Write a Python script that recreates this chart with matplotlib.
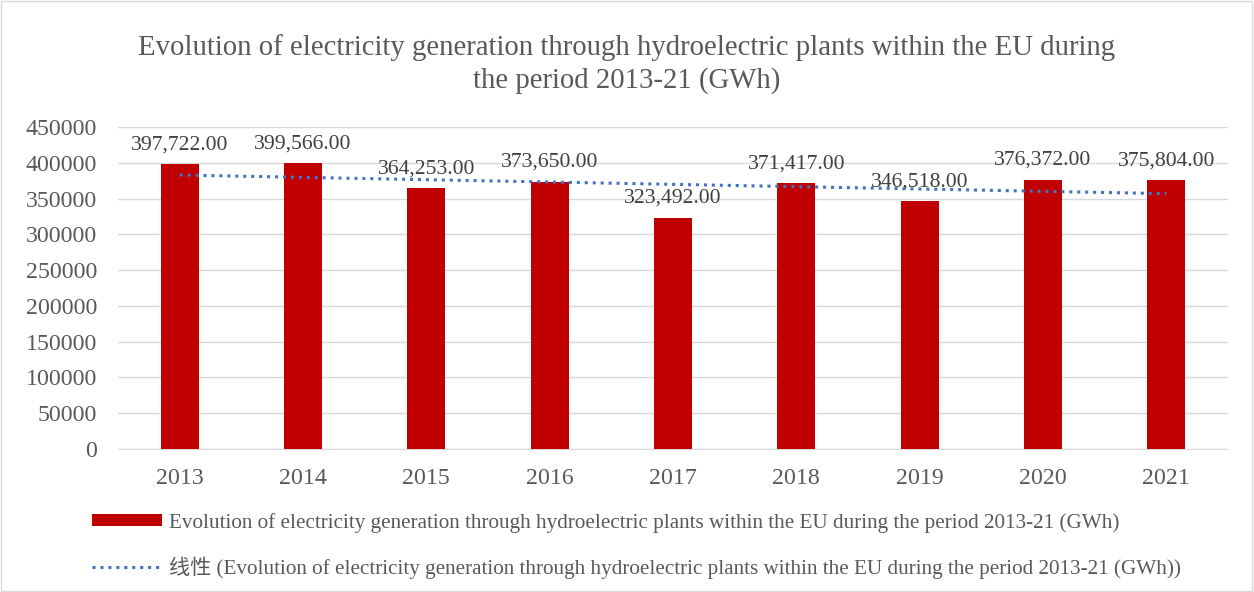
import numpy as np
import matplotlib.pyplot as plt
from matplotlib.patches import Rectangle

years = ['2013', '2014', '2015', '2016', '2017', '2018', '2019', '2020', '2021']
generation = [397722, 399566, 364253, 373650, 323492, 371417, 346518, 376372, 375804]
yticks = [0, 50000, 100000, 150000, 200000, 250000, 300000, 350000, 400000, 450000]

series_name = 'Evolution of electricity generation through hydroelectric plants within the EU during the period 2013-21 (GWh)'
title = ('Evolution of electricity generation through hydroelectric plants within the EU during\n'
         'the period 2013-21 (GWh)')

text_col = '#595959'
plt.rcParams['font.family'] = ['Liberation Serif', 'Noto Sans CJK SC', 'DejaVu Sans']

fig = plt.figure(figsize=(12.54, 5.92), dpi=100)
W, H = 1254, 592
ax = fig.add_axes([118 / W, (H - 449) / H, (1228 - 118) / W, (449 - 127) / H])

x = np.arange(len(years))
bars = ax.bar(x, generation, width=0.31, color='#C00000', zorder=3)

# linear trend line (like Excel's trendline)
p = np.polyfit(x, generation, 1)
trend, = ax.plot(x, np.polyval(p, x), linestyle=(0, (1, 1.6)), color='#4472C4',
                 linewidth=2.2, zorder=4)

ax.bar_label(bars, labels=[f'{v:,.2f}' for v in generation], padding=7,
             fontsize=15.6, color='#404040')

ax.set_ylim(0, 450000)
ax.set_xlim(-0.5, len(years) - 0.5)
ax.set_yticks(yticks)
ax.set_yticklabels([str(t) for t in yticks])
ax.set_xticks(x)
ax.set_xticklabels(years)
ax.tick_params(axis='both', length=0, labelsize=17.2, labelcolor=text_col)
ax.tick_params(axis='y', pad=15)
ax.tick_params(axis='x', pad=14)
ax.grid(axis='y', color='#D9D9D9', linewidth=1, zorder=0)
for side in ['left', 'right', 'top']:
    ax.spines[side].set_visible(False)
ax.spines['bottom'].set_color('#D9D9D9')

fig.text(0.5, 1 - 64 / H, title, ha='center', va='center', fontsize=20.7,
         color=text_col, linespacing=1.3)

fig.legend([bars, trend], [series_name, '线性 (' + series_name + ')'],
           loc='upper left', bbox_to_anchor=(73 / W, 1 - 494 / H), frameon=False,
           fontsize=15.2, labelcolor=text_col, handlelength=3.3, handleheight=0.5,
           labelspacing=1.12, handletextpad=0.35)

fig.patches.append(Rectangle((0.0005, 0.001), 0.998, 0.997, transform=fig.transFigure,
                             fill=False, edgecolor='#D9D9D9', linewidth=1))

fig.savefig('out.png', dpi=100)
